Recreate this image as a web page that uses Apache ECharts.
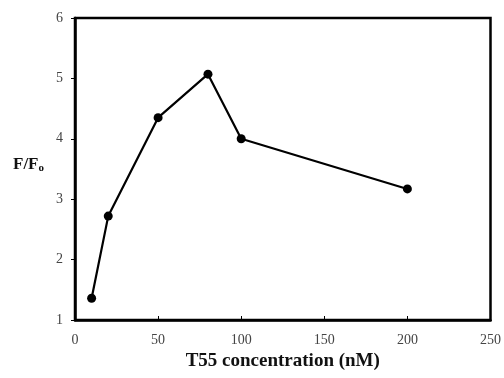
<!DOCTYPE html>
<html>
<head>
<meta charset="utf-8">
<script src="https://cdn.jsdelivr.net/npm/echarts@6/dist/echarts.min.js"></script>
<style>
  html, body { margin: 0; padding: 0; background: #fff; }
  #chart { width: 504px; height: 378px; }
</style>
</head>
<body>
<div id="chart"></div>
<script>
// 浓度 (nM) 与荧光比值 F/F0
const concentrations = [10, 20, 50, 80, 100, 200]
const ratios = [1.36, 2.72, 4.35, 5.07, 4.0, 3.17]

const xTicks = [0, 50, 100, 150, 200, 250]
const yTicks = [1, 2, 3, 4, 5, 6]

const chart = echarts.init(document.getElementById('chart'))

const serif = '"Liberation Serif", "DejaVu Serif", serif'

chart.setOption({
  animation: false,
  grid: {
    left: 75,
    right: 9,
    top: 18,
    bottom: 58,
    show: true,
    borderColor: '#000',
    borderWidth: 2.5,
    backgroundColor: 'transparent'
  },
  xAxis: {
    type: 'value',
    min: xTicks[0],
    max: xTicks[xTicks.length - 1],
    interval: 50,
    name: 'T55 concentration (nM)',
    nameLocation: 'middle',
    nameGap: 30,
    nameTextStyle: {
      fontFamily: serif,
      fontWeight: 'bold',
      fontSize: 19,
      color: '#111'
    },
    axisLine: { show: true, lineStyle: { color: '#000', width: 2.5 } },
    axisTick: { show: true, inside: true, length: 4, lineStyle: { color: '#000', width: 1 } },
    axisLabel: { fontFamily: serif, fontSize: 14, color: '#444', margin: 13 },
    splitLine: { show: false }
  },
  yAxis: {
    type: 'value',
    min: yTicks[0],
    max: yTicks[yTicks.length - 1],
    interval: 1,
    name: 'F/F{sub|o}',
    nameLocation: 'middle',
    nameGap: 31,
    nameRotate: 0,
    nameTextStyle: {
      fontFamily: serif,
      fontWeight: 'bold',
      fontSize: 17,
      color: '#111',
      padding: [0, 0, 8, 0],
      rich: {
        sub: {
          fontFamily: serif,
          fontWeight: 'bold',
          fontSize: 11,
          color: '#111',
          verticalAlign: 'bottom',
          padding: [6, 0, 0, 0]
        }
      }
    },
    axisLine: { show: true, lineStyle: { color: '#000', width: 2.5 } },
    axisTick: { show: true, inside: false, length: 4, lineStyle: { color: '#000', width: 1 } },
    axisLabel: { fontFamily: serif, fontSize: 14, color: '#444', margin: 12 },
    splitLine: { show: false }
  },
  series: [
    {
      type: 'line',
      data: concentrations.map((c, i) => [c, ratios[i]]),
      symbol: 'circle',
      symbolSize: 9,
      lineStyle: { color: '#000', width: 2.2 },
      itemStyle: { color: '#000' }
    }
  ]
})
</script>
</body>
</html>
